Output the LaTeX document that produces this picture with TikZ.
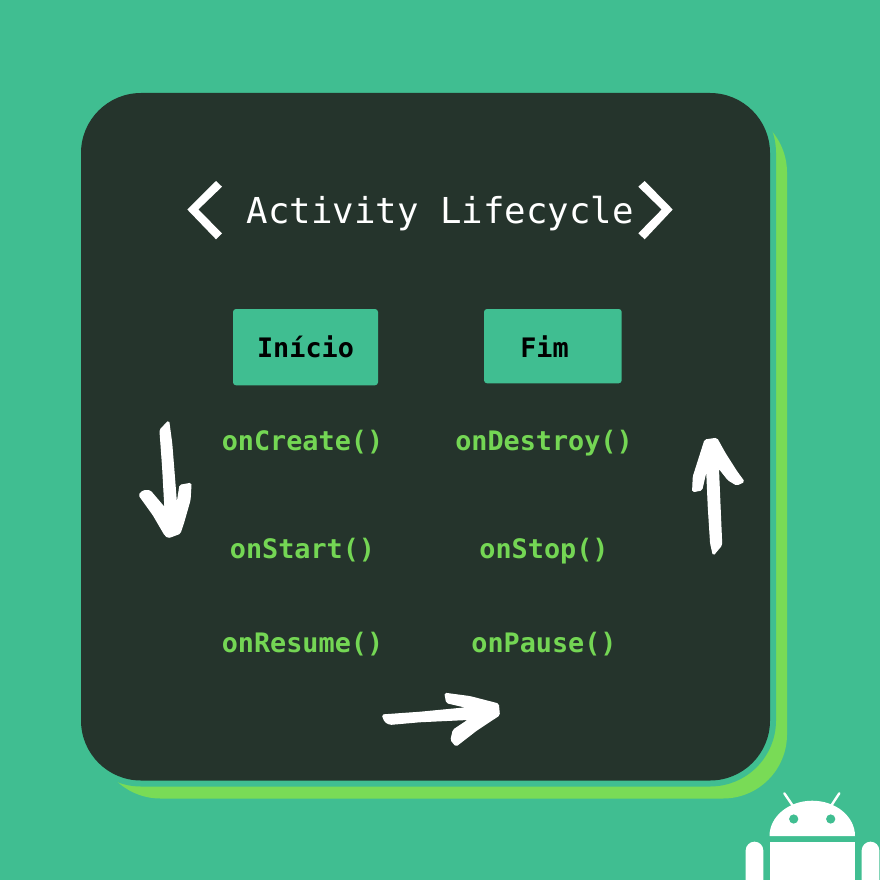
\documentclass[tikz,border=0pt]{standalone}
\usepackage{fontspec}
\newfontfamily\titlefont{DejaVu Sans Mono}
\newfontfamily\labelfont{DejaVu Sans Mono Bold}
\definecolor{teal}{HTML}{40BE91}
\definecolor{lime}{HTML}{79DB56}
\definecolor{card}{HTML}{25342C}
\definecolor{codegreen}{HTML}{74D654}
\tikzset{
  x=1pt,y=-1pt,
  method/.style={anchor=base,inner sep=0pt,text=codegreen,font=\labelfont\fontsize{26.8}{30}\selectfont},
  label/.style={anchor=base,inner sep=0pt,text=black,font=\labelfont\fontsize{26.8}{30}\selectfont},
  tag/.style={fill=teal,rounded corners=3pt},
  sketch/.style={fill=white,draw=white,line width=1.2pt,rounded corners=1.5pt},
  robot/.style={fill=white},
  chev/.style={fill=white}
}
\begin{document}
\begin{tikzpicture}
\useasboundingbox (0,0) rectangle (880,880);
\fill[teal] (0,0) rectangle (880,880);
% cards
\fill[lime,rounded corners=64pt] (96.5,108.5) rectangle (787,798.5);
\fill[teal,rounded corners=66pt] (75,87) rectangle (776,786.5);
\fill[card,rounded corners=60pt] (81,93) rectangle (770,780.5);
% title
\node[anchor=base,inner sep=0pt,text=white,font=\titlefont\fontsize{35.7}{40}\selectfont] (title) at (440.3,223.5) {Activity Lifecycle};
\fill[chev] (216,181) -- (222,186.7) -- (198.3,209.5) -- (222,233.3) -- (216,239.3) -- (187.3,209.5) -- cycle;
\fill[chev] (644.7,181) -- (638.3,186.7) -- (661.7,209.5) -- (638.3,233.3) -- (644.7,239.3) -- (672.7,209.5) -- cycle;
% tags
\fill[tag] (233,309) rectangle (378,385.3);
\fill[tag] (484,309) rectangle (621.7,383.3);
\node[label] (inicio) at (305.5,357.3) {Início};
\node[label] (fim) at (544.5,357.3) {Fim};
% methods
\node[method] (create) at (302.5,450.7) {onCreate()};
\node[method] (destroy) at (544,450.7) {onDestroy()};
\node[method] (start) at (302.5,558.7) {onStart()};
\node[method] (stop) at (544,558.7) {onStop()};
\node[method] (resume) at (302.5,652.2) {onResume()};
\node[method] (pause) at (544,652.2) {onPause()};
% hand-drawn arrows
\begin{scope}[shift={(130,400)},x=0.3333pt,y=-0.3333pt]
\fill[sketch] (116,63) -- (125,130) -- (133,230) -- (140,320) -- (150,256) -- (183,250) -- (180,300) -- (160,370) -- (150,400) -- (115,413) -- (105,405) -- (70,345) -- (27,285) -- (40,272) -- (60,272) -- (105,325) -- (98,200) -- (90,90) -- cycle;
\end{scope}
\begin{scope}[shift={(680,430)},x=0.3333pt,y=-0.3333pt]
\fill[sketch] (75,30) -- (110,25) -- (135,70) -- (170,125) -- (192,155) -- (170,165) -- (145,150) -- (115,112) -- (120,230) -- (125,345) -- (100,375) -- (92,340) -- (85,230) -- (80,115) -- (65,180) -- (38,185) -- (40,140) -- cycle;
\end{scope}
\begin{scope}[shift={(370,680)},x=0.3333pt,y=-0.3333pt]
\fill[sketch] (225,40) -- (300,50) -- (385,72) -- (388,105) -- (320,150) -- (258,198) -- (243,180) -- (250,150) -- (298,118) -- (150,125) -- (60,133) -- (45,125) -- (37,105) -- (150,97) -- (295,83) -- (230,68) -- cycle;
\end{scope}
% android
\fill[robot] (769.5,836) arc[start angle=180,end angle=0,x radius=42.75pt,y radius=35.3pt] -- cycle;
\fill[teal] (793.7,819) circle[radius=4.6pt];
\fill[teal] (830.7,819) circle[radius=4.6pt];
\draw[white,line width=2.4pt,line cap=round] (784.3,793.3) -- (793,806);
\draw[white,line width=2.4pt,line cap=round] (839.3,793.3) -- (831,806);
\fill[robot] (769.5,841.7) rectangle (855,880);
\fill[robot,rounded corners=8.7pt] (745.7,841.7) rectangle (763.3,900);
\fill[robot,rounded corners=8.7pt] (861.7,841.7) rectangle (879.3,900);
\end{tikzpicture}
\end{document}
